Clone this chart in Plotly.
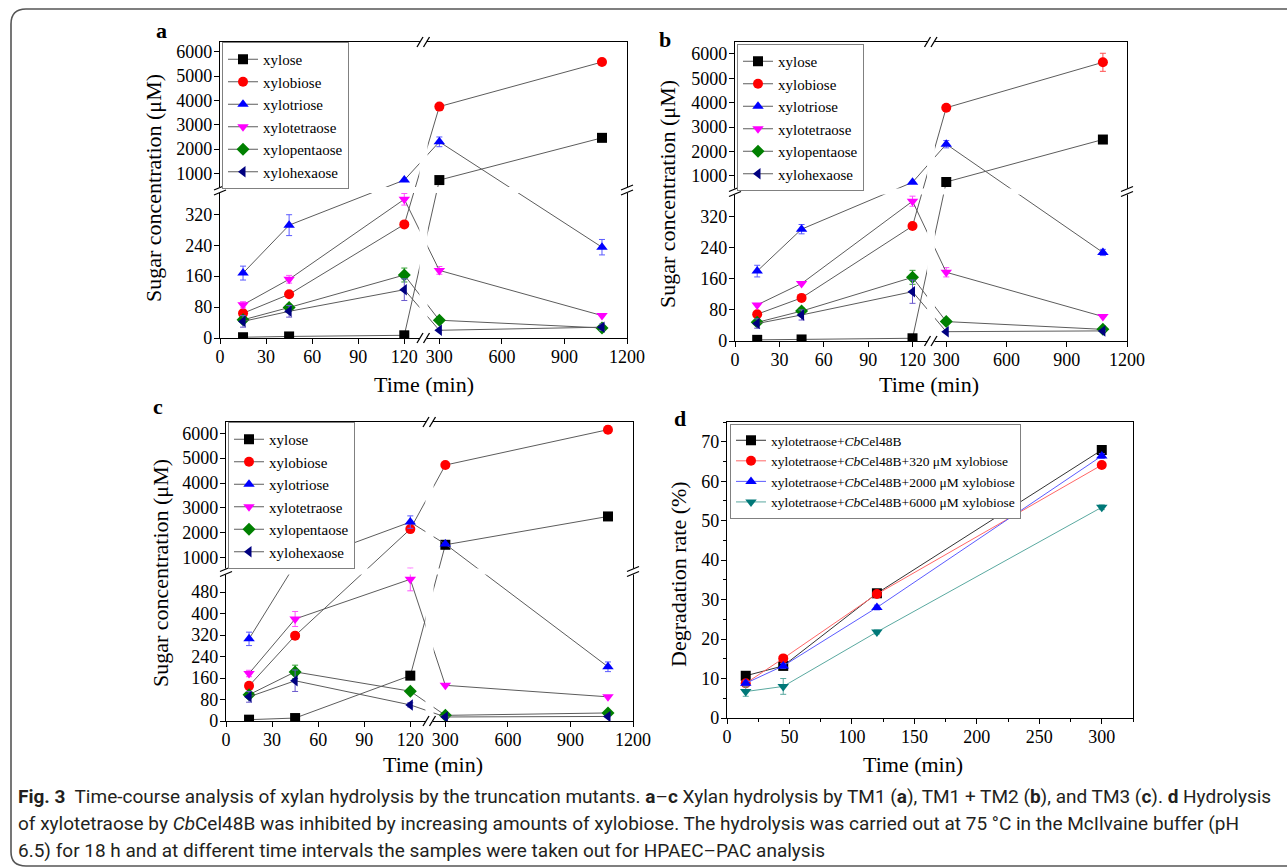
import plotly.graph_objects as go

W, H = 1287, 868
SERIF = "Liberation Serif, Times New Roman, serif"
CAPFONT = "Roboto, Liberation Sans, sans-serif"

# ---------------- data ----------------
time_ac = [15, 45, 120, 300, 1080]
sugar_names = ["xylose", "xylobiose", "xylotriose", "xylotetraose", "xylopentaose", "xylohexaose"]

# panel a (TM1), concentration in uM
a_xylose = [2, 4, 7, 727, 2462]
a_xylobiose = [64, 113, 294, 3746, 5576]
a_xylotriose = [168, 292, 727, 2298, 235]
a_xylotetraose = [86, 152, 359, 175, 58]
a_xylopentaose = [47, 79, 163, 46, 26]
a_xylohexaose = [43, 69, 125, 20, 28]
a_err_xylose = [0, 0, 0, 0, 0]
a_err_xylobiose = [0, 0, 0, 0, 0]
a_err_xylotriose = [18, 27, 0, 200, 20]
a_err_xylotetraose = [8, 10, 15, 10, 0]
a_err_xylopentaose = [5, 8, 18, 0, 0]
a_err_xylohexaose = [15, 15, 28, 0, 8]

# panel b (TM1 + TM2)
b_xylose = [3, 4, 7, 753, 2493]
b_xylobiose = [69, 111, 296, 3795, 5658]
b_xylotriose = [180, 288, 740, 2301, 228]
b_xylotetraose = [93, 148, 360, 177, 63]
b_xylopentaose = [48, 77, 164, 50, 30]
b_xylohexaose = [45, 67, 127, 24, 26]
b_err_xylose = [0, 0, 0, 0, 0]
b_err_xylobiose = [0, 0, 0, 0, 370]
b_err_xylotriose = [15, 12, 0, 150, 8]
b_err_xylotetraose = [0, 0, 13, 12, 0]
b_err_xylopentaose = [0, 8, 18, 0, 0]
b_err_xylohexaose = [12, 13, 30, 0, 0]

# panel c (TM3)
c_xylose = [5, 11, 169, 1511, 2653]
c_xylobiose = [131, 318, 2142, 4723, 6148]
c_xylotriose = [306, 718, 2425, 1538, 202]
c_xylotetraose = [177, 380, 528, 133, 90]
c_xylopentaose = [98, 183, 111, 21, 30]
c_xylohexaose = [90, 150, 60, 15, 17]
c_err_xylose = [0, 0, 0, 0, 100]
c_err_xylobiose = [0, 0, 100, 100, 150]
c_err_xylotriose = [25, 0, 250, 0, 18]
c_err_xylotetraose = [12, 28, 43, 0, 0]
c_err_xylopentaose = [0, 25, 0, 0, 0]
c_err_xylohexaose = [20, 40, 8, 0, 0]

# panel d, degradation rate (%)
time_d = [15, 45, 120, 300]
d_names = ["xylotetraose+<i>Cb</i>Cel48B",
           "xylotetraose+<i>Cb</i>Cel48B+320 \u03bcM xylobiose",
           "xylotetraose+<i>Cb</i>Cel48B+2000 \u03bcM xylobiose",
           "xylotetraose+<i>Cb</i>Cel48B+6000 \u03bcM xylobiose"]
d_plain = [10.7, 13.2, 31.6, 67.9]
d_320 = [8.8, 15.1, 31.4, 64.1]
d_2000 = [8.8, 13.2, 28.0, 66.4]
d_6000 = [6.7, 8.0, 21.8, 53.4]
d_err_plain = [0.6, 0.6, 0.6, 0.6]
d_err_320 = [0.5, 0.5, 0.5, 0.5]
d_err_2000 = [0.6, 0.6, 0.6, 0.6]
d_err_6000 = [1.2, 2.0, 0.5, 0.6]

x_low_ticks = [0, 30, 60, 90, 120]
x_high_ticks = [300, 600, 900, 1200]
y_high_ticks = [1000, 2000, 3000, 4000, 5000, 6000]
ab_low_ticks = [0, 80, 160, 240, 320]
c_low_ticks = [0, 80, 160, 240, 320, 400, 480]

# ---------------- styling ----------------
colors = ["#000000", "#ff0000", "#0000ff", "#ff00ff", "#008000", "#000080"]
err_colors = ["#303030", "#ff5050", "#5a5aff", "#ff50ff", "#2f9f2f", "#6a5acd"]
symbols = ["square", "circle", "triangle-up", "triangle-down", "diamond", "triangle-left"]
d_line_colors = ["#333333", "#ff6666", "#5b5bff", "#5aa9a0"]
d_marker_colors = ["#000000", "#ff0000", "#0000ff", "#007878"]
d_symbols = ["square", "circle", "triangle-up", "triangle-down"]

# broken-axis scale: x break at 50% of width, y break at 50% of height
X_LEFT_MAX = 132.5   # left segment 0..132.5
X_RIGHT_MIN = 224.0  # right segment 224..1200
X_RIGHT_MAX = 1200.0


def fx(t):
    if t <= X_LEFT_MAX:
        return 0.5 * t / X_LEFT_MAX
    return 0.5 + 0.5 * (t - X_RIGHT_MIN) / (X_RIGHT_MAX - X_RIGHT_MIN)


def make_fy(lo_max, hi_min, hi_max):
    def fy(v):
        if v <= lo_max:
            return 0.5 * v / lo_max
        return 0.5 + 0.5 * (v - hi_min) / (hi_max - hi_min)
    return fy


panels = [
    dict(key="a", L=220, T=42, R=627, B=338, fy=make_fy(383, 319, 6400), low=ab_low_ticks,
         series=[a_xylose, a_xylobiose, a_xylotriose, a_xylotetraose, a_xylopentaose, a_xylohexaose],
         errs=[a_err_xylose, a_err_xylobiose, a_err_xylotriose, a_err_xylotetraose, a_err_xylopentaose, a_err_xylohexaose],
         legend=(222, 42), letter=(161, 31), ytitle=(153, 188), xtitle=(424, 384)),
    dict(key="b", L=735, T=42, R=1127, B=341, fy=make_fy(385, 363, 6490), low=ab_low_ticks,
         series=[b_xylose, b_xylobiose, b_xylotriose, b_xylotetraose, b_xylopentaose, b_xylohexaose],
         errs=[b_err_xylose, b_err_xylobiose, b_err_xylotriose, b_err_xylotetraose, b_err_xylopentaose, b_err_xylohexaose],
         legend=(737, 44), letter=(665, 39), ytitle=(668, 194), xtitle=(929, 384)),
    dict(key="c", L=226, T=422, R=633, B=721, fy=make_fy(557, 435, 6457), low=c_low_ticks,
         series=[c_xylose, c_xylobiose, c_xylotriose, c_xylotetraose, c_xylopentaose, c_xylohexaose],
         errs=[c_err_xylose, c_err_xylobiose, c_err_xylotriose, c_err_xylotetraose, c_err_xylopentaose, c_err_xylohexaose],
         legend=(228, 422), letter=(158, 406), ytitle=(160, 573), xtitle=(433, 764)),
]
PD = dict(L=727, T=422, R=1133, B=718, legend=(730, 424), letter=(680, 418), ytitle=(678, 574), xtitle=(913, 764))


def px(p):
    return p / W


def py(p):
    return 1 - p / H


fig = go.Figure()
shapes = []
annotations = []


def label(text, x, y, size=22, angle=0):
    return dict(text=text, x=px(x), y=py(y), xref="paper", yref="paper", xanchor="center",
                yanchor="middle", showarrow=False, textangle=angle,
                font=dict(family=SERIF, size=size, color="black"))


def break_marks(cx, cy, orient):
    """'//' marks on a frame line at pixel position (cx, cy)."""
    out = []
    if orient == "h":
        out.append(dict(type="rect", xref="paper", yref="paper", x0=px(cx - 3.5), x1=px(cx + 3.5),
                        y0=py(cy + 2), y1=py(cy - 2), fillcolor="white", line=dict(width=0), layer="above"))
        for dx in (-3.5, 3.0):
            out.append(dict(type="line", xref="paper", yref="paper", x0=px(cx + dx - 3), y0=py(cy + 5),
                            x1=px(cx + dx + 3), y1=py(cy - 5), line=dict(color="black", width=1.3), layer="above"))
    else:
        out.append(dict(type="rect", xref="paper", yref="paper", x0=px(cx - 2.5), x1=px(cx + 2.5),
                        y0=py(cy + 3), y1=py(cy - 3), fillcolor="white", line=dict(width=0), layer="above"))
        for dy in (-2.5, 2.5):
            out.append(dict(type="line", xref="paper", yref="paper", x0=px(cx - 6), y0=py(cy + dy + 2.5),
                            x1=px(cx + 6), y1=py(cy + dy - 2.5), line=dict(color="black", width=1.3), layer="above"))
    return out


axis_common = dict(showgrid=False, zeroline=False, showline=True, linecolor="black", linewidth=1.3,
                   mirror=True, ticks="outside", ticklen=5, tickwidth=1.2, tickcolor="black",
                   tickfont=dict(family=SERIF, size=18, color="black"))
xaxis_extra = dict(ticklabelstandoff=-3)
yaxis_extra = dict(ticklabelstandoff=-2)

legend_common = dict(xanchor="left", yanchor="top", bgcolor="white", bordercolor="#808080", borderwidth=1,
                     tracegroupgap=0, itemwidth=30)

for i, p in enumerate(panels):
    n = i + 1
    xa = "x" if n == 1 else f"x{n}"
    ya = "y" if n == 1 else f"y{n}"
    leg = "legend" if n == 1 else f"legend{n}"
    fy = p["fy"]
    for name, vals, errs, col, ecol, sym in zip(sugar_names, p["series"], p["errs"], colors, err_colors, symbols):
        yv = [fy(v) for v in vals]
        up = [fy(v + e) - fy(v) for v, e in zip(vals, errs)]
        dn = [fy(v) - fy(max(v - e, 0)) for v, e in zip(vals, errs)]
        fig.add_trace(go.Scatter(
            x=[fx(t) for t in time_ac], y=yv, mode="lines+markers", name=name,
            line=dict(color="#5c5c5c", width=1),
            marker=dict(symbol=sym, color=col, size=10, line=dict(width=0)),
            error_y=dict(type="data", symmetric=False, array=up, arrayminus=dn,
                         color=ecol, thickness=1, width=3),
            xaxis=xa, yaxis=ya, legend=leg, showlegend=True))
    xdom = [px(p["L"]), px(p["R"])]
    ydom = [py(p["B"]), py(p["T"])]
    xticks = x_low_ticks + x_high_ticks
    yticks = p["low"] + y_high_ticks
    fig.layout[("xaxis" if n == 1 else f"xaxis{n}")] = dict(
        axis_common, **xaxis_extra, domain=xdom, anchor=ya, range=[0, 1],
        tickvals=[fx(t) for t in xticks], ticktext=[str(t) for t in xticks])
    fig.layout[("yaxis" if n == 1 else f"yaxis{n}")] = dict(
        axis_common, **yaxis_extra, domain=ydom, anchor=xa, range=[0, 1],
        tickvals=[fy(v) for v in yticks], ticktext=[str(v) for v in yticks])
    # white gaps where the broken axes interrupt the connecting lines
    shapes.append(dict(type="rect", xref=xa, yref=ya, x0=0.49, x1=0.51, y0=0.006, y1=0.994,
                       fillcolor="white", line=dict(width=0), layer="above"))
    shapes.append(dict(type="rect", xref=xa, yref=ya, x0=0.004, x1=0.996, y0=0.49, y1=0.51,
                       fillcolor="white", line=dict(width=0), layer="above"))
    cxp = p["L"] + 0.5 * (p["R"] - p["L"])
    cyp = p["B"] - 0.5 * (p["B"] - p["T"])
    shapes += break_marks(cxp, p["T"], "h")
    shapes += break_marks(cxp, p["B"], "h")
    shapes += break_marks(p["L"], cyp, "v")
    shapes += break_marks(p["R"], cyp, "v")
    fig.layout[leg] = dict(legend_common, x=px(p["legend"][0]), y=py(p["legend"][1]),
                           font=dict(family=SERIF, size=15, color="black"))
    annotations.append(label("<b>%s</b>" % p["key"], *p["letter"]))
    annotations.append(label("Sugar concentration (\u03bcM)", *p["ytitle"], angle=-90))
    annotations.append(label("Time (min)", *p["xtitle"]))

# panel d
for name, vals, errs, lc, mc, sym in zip(d_names, [d_plain, d_320, d_2000, d_6000],
                                         [d_err_plain, d_err_320, d_err_2000, d_err_6000],
                                         d_line_colors, d_marker_colors, d_symbols):
    fig.add_trace(go.Scatter(
        x=time_d, y=vals, mode="lines+markers", name=name,
        line=dict(color=lc, width=1),
        marker=dict(symbol=sym, color=mc, size=10, line=dict(width=0)),
        error_y=dict(type="data", array=errs, color=lc, thickness=1, width=3),
        xaxis="x4", yaxis="y4", legend="legend4", showlegend=True))

fig.layout["xaxis4"] = dict(axis_common, **xaxis_extra, domain=[px(PD["L"]), px(PD["R"])], anchor="y4",
                            range=[0, 325], tickvals=[0, 50, 100, 150, 200, 250, 300],
                            minor=dict(tickvals=[25, 75, 125, 175, 225, 275, 325], ticklen=3,
                                       ticks="outside", tickcolor="black"))
fig.layout["yaxis4"] = dict(axis_common, **yaxis_extra, domain=[py(PD["B"]), py(PD["T"])], anchor="x4",
                            range=[0, 75], tickvals=[0, 10, 20, 30, 40, 50, 60, 70],
                            minor=dict(tickvals=[5, 15, 25, 35, 45, 55, 65, 75], ticklen=3,
                                       ticks="outside", tickcolor="black"))
fig.layout["legend4"] = dict(legend_common, x=px(PD["legend"][0]), y=py(PD["legend"][1]),
                             font=dict(family=SERIF, size=13.5, color="black"))
annotations.append(label("<b>d</b>", *PD["letter"]))
annotations.append(label("Degradation rate (%)", *PD["ytitle"], angle=-90))
annotations.append(label("Time (min)", *PD["xtitle"]))

# caption
caption_lines = [
    "<b>Fig. 3</b>  Time-course analysis of xylan hydrolysis by the truncation mutants. <b>a</b>\u2013<b>c</b> "
    "Xylan hydrolysis by TM1 (<b>a</b>), TM1 + TM2 (<b>b</b>), and TM3 (<b>c</b>). <b>d</b> Hydrolysis",
    "of xylotetraose by <i>Cb</i>Cel48B was inhibited by increasing amounts of xylobiose. The hydrolysis "
    "was carried out at 75 \u00b0C in the McIlvaine buffer (pH",
    "6.5) for 18 h and at different time intervals the samples were taken out for HPAEC\u2013PAC analysis",
]
for k, line in enumerate(caption_lines):
    annotations.append(dict(text=line, x=px(16), y=py(796 + 27 * k), xref="paper", yref="paper",
                            xanchor="left", yanchor="middle", showarrow=False,
                            font=dict(family=CAPFONT, size=19, color="#231f20")))

# outer rounded frame
frame_path = ("M %f %f L %f %f Q %f %f %f %f L %f %f Q %f %f %f %f L %f %f" % (
    px(1290), py(9), px(26), py(9), px(11), py(9), px(11), py(24),
    px(11), py(852), px(11), py(866), px(26), py(866), px(1290), py(866)))
shapes.append(dict(type="path", xref="paper", yref="paper", path=frame_path,
                   line=dict(color="#555555", width=1.6), layer="above"))

fig.update_layout(width=W, height=H, margin=dict(l=0, r=0, t=0, b=0, pad=0, autoexpand=False),
                  paper_bgcolor="white", plot_bgcolor="white",
                  font=dict(family=SERIF, size=18, color="black"),
                  shapes=shapes, annotations=annotations)

fig.write_html("out.html", config={"displayModeBar": False},
               post_script="document.body.style.margin='0px';")
